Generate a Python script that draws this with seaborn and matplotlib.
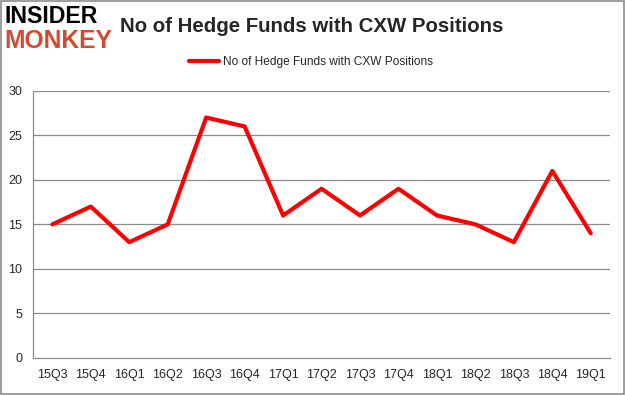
import matplotlib
matplotlib.use("Agg")
import matplotlib.pyplot as plt
import seaborn as sns
import numpy as np
import pandas as pd

quarters = ["15Q3", "15Q4", "16Q1", "16Q2", "16Q3", "16Q4", "17Q1", "17Q2",
            "17Q3", "17Q4", "18Q1", "18Q2", "18Q3", "18Q4", "19Q1"]
funds = [15, 17, 13, 15, 27, 26, 16, 19, 16, 19, 16, 15, 13, 21, 14]
yticks = [0, 5, 10, 15, 20, 25, 30]
series_name = "No of Hedge Funds with CXW Positions"

sns.set_theme(style="white")
plt.rcParams['font.family'] = ['Liberation Sans', 'DejaVu Sans']

df = pd.DataFrame({'x': np.arange(len(quarters)), 'funds': funds})

fig = plt.figure(figsize=(6.25, 3.95), dpi=100)
ax = fig.add_axes([0.053, 0.094, 0.923, 0.676])

for y in yticks[1:]:
    ax.axhline(y, color='#8c8c8c', lw=0.9, zorder=0)

sns.lineplot(data=df, x='x', y='funds', ax=ax, color='#ff0000', lw=3,
             label=series_name, legend=False)

ax.set_xlim(-0.5, len(quarters) - 0.5)
ax.set_ylim(0, 30)
ax.set_yticks(yticks)
ax.set_yticklabels([str(v) for v in yticks], fontsize=9)
ax.set_xticks(np.arange(len(quarters)))
ax.set_xticklabels(quarters, fontsize=9)
ax.set_xticks(np.arange(-0.5, len(quarters)), minor=True)
ax.tick_params(axis='x', which='major', length=0, pad=8)
ax.tick_params(axis='x', which='minor', length=5, color='#8c8c8c', direction='out')
ax.tick_params(axis='y', length=5, color='#8c8c8c', direction='out', pad=3)
ax.set_xlabel('')
ax.set_ylabel('')
for s in ['top', 'right']:
    ax.spines[s].set_visible(False)
for s in ['left', 'bottom']:
    ax.spines[s].set_color('#8c8c8c')
    ax.spines[s].set_linewidth(0.9)

# legend
fig.legend(handles=ax.get_lines()[-1:], labels=[series_name], loc='center',
           bbox_to_anchor=(0.498, 0.843), frameon=False, fontsize=8.6,
           handlelength=2.5, handletextpad=0.33)

# title and logo
fig.text(0.192, 0.932, series_name, fontsize=14.7, fontweight='bold',
         ha='left', va='center')
fig.text(0.008, 0.957, "INSIDER", fontsize=16.7, fontweight='heavy', color='black',
         ha='left', va='center')
fig.text(0.007, 0.897, "MONKEY", fontsize=17.7, fontweight='heavy', color='#d24a32',
         ha='left', va='center')

# outer border
fig.patches.append(plt.Rectangle((0.001, 0.002), 0.997, 0.995, transform=fig.transFigure,
                                 fill=False, edgecolor='#8c8c8c', lw=1.2))

fig.savefig("out.png", dpi=100)
